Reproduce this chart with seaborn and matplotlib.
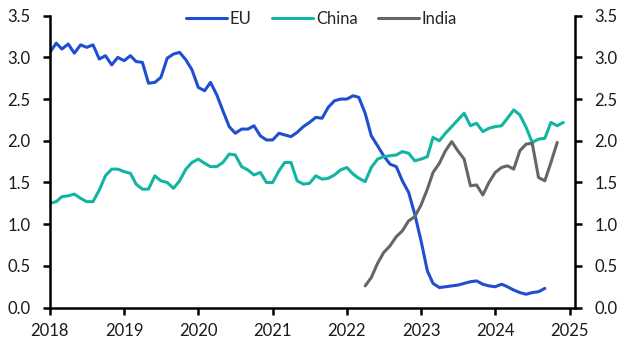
import pandas as pd
import numpy as np
import matplotlib
matplotlib.use("Agg")
import matplotlib.pyplot as plt
import matplotlib.dates as mdates
import seaborn as sns

# monthly values
eu = [3.06, 3.17, 3.10, 3.16, 3.05, 3.15, 3.12, 3.15, 2.98, 3.02,
      2.91, 3.00, 2.96, 3.02, 2.95, 2.94, 2.69, 2.70, 2.76, 2.99,
      3.04, 3.06, 2.97, 2.85, 2.64, 2.60, 2.70, 2.55, 2.36, 2.17,
      2.09, 2.14, 2.14, 2.18, 2.06, 2.01, 2.01, 2.09, 2.07, 2.05,
      2.10, 2.17, 2.22, 2.28, 2.27, 2.40, 2.48, 2.50, 2.50, 2.54,
      2.52, 2.33, 2.06, 1.94, 1.82, 1.72, 1.69, 1.52, 1.38, 1.12,
      0.80, 0.44, 0.29, 0.24, 0.25, 0.26, 0.27, 0.29, 0.31, 0.32,
      0.28, 0.26, 0.25, 0.28, 0.25, 0.21, 0.18, 0.16, 0.18, 0.19,
      0.23]
china = [1.25, 1.27, 1.33, 1.34, 1.36, 1.31, 1.27, 1.27, 1.41, 1.58,
         1.66, 1.66, 1.63, 1.61, 1.48, 1.42, 1.42, 1.58, 1.52, 1.50,
         1.43, 1.52, 1.66, 1.74, 1.78, 1.73, 1.69, 1.69, 1.74, 1.84,
         1.83, 1.69, 1.65, 1.59, 1.62, 1.50, 1.50, 1.64, 1.74, 1.74,
         1.52, 1.48, 1.49, 1.58, 1.54, 1.55, 1.59, 1.65, 1.68, 1.60,
         1.55, 1.51, 1.68, 1.78, 1.81, 1.82, 1.83, 1.87, 1.85, 1.76,
         1.78, 1.81, 2.04, 2.00, 2.09, 2.17, 2.25, 2.33, 2.18, 2.21,
         2.11, 2.15, 2.17, 2.18, 2.27, 2.37, 2.31, 2.16, 1.98, 2.02,
         2.03, 2.22, 2.18, 2.22]
india = [0.26, 0.36, 0.53, 0.66, 0.74, 0.85, 0.92, 1.04, 1.09,
         1.23, 1.42, 1.62, 1.73, 1.88, 1.99, 1.88, 1.78, 1.46, 1.47,
         1.35, 1.50, 1.62, 1.68, 1.70, 1.66, 1.88, 1.96, 1.97, 1.56,
         1.52, 1.74, 1.98]

eu_dates = pd.date_range("2018-01-01", periods=len(eu), freq="MS")
china_dates = pd.date_range("2018-01-01", periods=len(china), freq="MS")
india_dates = pd.date_range("2022-04-01", periods=len(india), freq="MS")

df = pd.concat([
    pd.DataFrame({"date": eu_dates, "value": eu, "country": "EU"}),
    pd.DataFrame({"date": china_dates, "value": china, "country": "China"}),
    pd.DataFrame({"date": india_dates, "value": india, "country": "India"}),
])

sns.set_style("white")
plt.rcParams["font.family"] = ["Lato", "DejaVu Sans"]
plt.rcParams["font.size"] = 12

colors = {"EU": "#1f4fd0", "China": "#12b5a2", "India": "#666666"}

fig = plt.figure(figsize=(6.32, 3.56), dpi=100)
ax = fig.add_axes([0.079, 0.136, 0.831, 0.820])

sns.lineplot(data=df, x="date", y="value", hue="country", palette=colors,
             linewidth=2.2, ax=ax)

ax.set_xlim(pd.Timestamp("2018-01-01"), pd.Timestamp("2025-01-28"))
ax.set_ylim(0, 3.5)
ax.set_yticks(np.arange(0, 3.51, 0.5))
ax.yaxis.set_major_formatter(plt.FormatStrFormatter("%.1f"))
ax.xaxis.set_major_locator(mdates.YearLocator())
ax.xaxis.set_major_formatter(mdates.DateFormatter("%Y"))
ax.set_xlabel("")
ax.set_ylabel("")

for side in ["left", "bottom", "right"]:
    ax.spines[side].set_visible(True)
    ax.spines[side].set_linewidth(1.8)
    ax.spines[side].set_color("black")
ax.spines["top"].set_visible(False)

ax.tick_params(axis="both", which="major", direction="out", length=5, width=1.8,
               colors="black", labelsize=12, labelcolor="#1a1a1a")
ax.tick_params(axis="y", left=True, right=True, labelleft=True, labelright=True, pad=9)
ax.tick_params(axis="x", bottom=True, pad=6)

ax.legend(loc="center", bbox_to_anchor=(0.517, 0.99), ncol=3, frameon=False,
          handlelength=2.5, columnspacing=1.2, handletextpad=0.15, fontsize=12)

plt.savefig("out.png", dpi=100)
